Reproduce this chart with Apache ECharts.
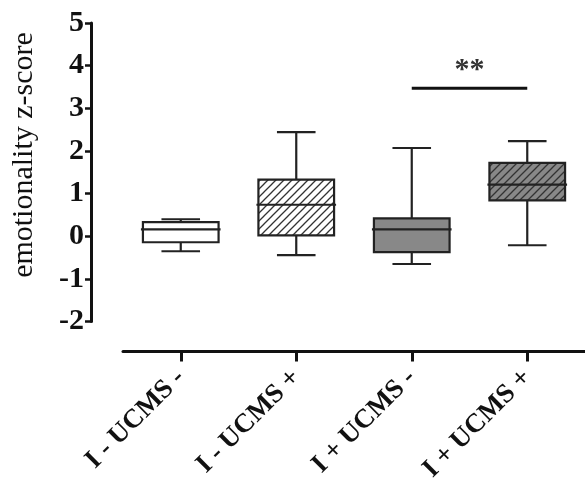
<!DOCTYPE html>
<html>
<head>
<meta charset="utf-8">
<script src="https://cdn.jsdelivr.net/npm/echarts@6/dist/echarts.min.js"></script>
<style>html,body{margin:0;padding:0;background:#fff;}#c{width:585px;height:485px;}</style>
</head>
<body>
<div id="c"></div>
<script>
// ---- data ----
const categories = ['I - UCMS -', 'I - UCMS +', 'I + UCMS -', 'I + UCMS +'];
const whiskerLow  = [-0.35, -0.44, -0.65, -0.21];
const quartile1   = [-0.14,  0.02, -0.37,  0.84];
const medians     = [ 0.16,  0.74,  0.16,  1.21];
const quartile3   = [ 0.33,  1.33,  0.42,  1.72];
const whiskerHigh = [ 0.40,  2.44,  2.07,  2.23];
const yTicks = [-2, -1, 0, 1, 2, 3, 4, 5];
const sigFrom = 2, sigTo = 3, sigLevel = 3.47, sigText = '**';

// ---- styles ----
function hatch(bg) {
  const s = 8;
  const c = document.createElement('canvas');
  c.width = s; c.height = s;
  const g = c.getContext('2d');
  g.fillStyle = bg; g.fillRect(0, 0, s, s);
  g.strokeStyle = '#333'; g.lineWidth = 1.3;
  g.beginPath();
  g.moveTo(-1, s + 1); g.lineTo(s + 1, -1);
  g.moveTo(-1, 1); g.lineTo(1, -1);
  g.moveTo(s - 1, s + 1); g.lineTo(s + 1, s - 1);
  g.stroke();
  return {image: c, repeat: 'repeat'};
}
const fills = ['#ffffff', hatch('#ffffff'), '#888888', hatch('#888888')];
const edge = '#222';
const serif = '"Liberation Serif", "Times New Roman", serif';

const boxData = categories.map((c, i) => [i, whiskerLow[i], quartile1[i], medians[i], quartile3[i], whiskerHigh[i]]);

function renderBox(params, api) {
  const i = api.value(0);
  const p = k => api.coord([i, api.value(k)]);
  const pMin = p(1), pQ1 = p(2), pMed = p(3), pQ3 = p(4), pMax = p(5);
  const cx = pMin[0];
  const bw = api.size([1, 0])[0] * 0.655;
  const cw = bw * 0.51;
  const ls = {stroke: edge, lineWidth: 2.2};
  return {
    type: 'group',
    children: [
      {type: 'line', shape: {x1: cx, y1: pMax[1], x2: cx, y2: pQ3[1]}, style: ls},
      {type: 'line', shape: {x1: cx, y1: pQ1[1], x2: cx, y2: pMin[1]}, style: ls},
      {type: 'line', shape: {x1: cx - cw / 2, y1: pMax[1], x2: cx + cw / 2, y2: pMax[1]}, style: ls},
      {type: 'line', shape: {x1: cx - cw / 2, y1: pMin[1], x2: cx + cw / 2, y2: pMin[1]}, style: ls},
      {type: 'rect', shape: {x: cx - bw / 2, y: pQ3[1], width: bw, height: pQ1[1] - pQ3[1]},
        style: {fill: fills[i], stroke: edge, lineWidth: 2.2}},
      {type: 'line', shape: {x1: cx - bw / 2 - 2, y1: pMed[1], x2: cx + bw / 2 + 2, y2: pMed[1]}, style: ls}
    ]
  };
}

function renderSig(params, api) {
  const a = api.coord([api.value(0), api.value(2)]);
  const b = api.coord([api.value(1), api.value(2)]);
  return {
    type: 'group',
    children: [
      {type: 'line', shape: {x1: a[0], y1: a[1], x2: b[0], y2: b[1]}, style: {stroke: '#111', lineWidth: 3}},
      {type: 'text', style: {text: sigText, x: (a[0] + b[0]) / 2, y: a[1] - 3, align: 'center', verticalAlign: 'bottom',
        font: 'bold 30px ' + serif, fill: '#333'}}
    ]
  };
}

const chart = echarts.init(document.getElementById('c'), null, {renderer: 'canvas'});
chart.setOption({
  animation: false,
  backgroundColor: '#fff',
  grid: {left: 123, right: -4, top: 23, bottom: 162},
  graphic: [{
    type: 'text', x: 24, y: 155, rotation: Math.PI / 2,
    style: {text: 'emotionality z-score', font: '30px ' + serif, fill: '#111', align: 'center', verticalAlign: 'middle'}
  }],
  xAxis: {
    type: 'category', data: categories, offset: 30,
    axisLine: {show: true, onZero: false, lineStyle: {color: '#111', width: 3}},
    axisTick: {show: true, alignWithLabel: true, interval: 0, length: 10, lineStyle: {color: '#111', width: 3}},
    axisLabel: {rotate: 45, interval: 0, margin: 22, color: '#111', fontFamily: serif, fontWeight: 'bold', fontSize: 27},
    splitLine: {show: false}
  },
  yAxis: {
    type: 'value', min: yTicks[0], max: yTicks[yTicks.length - 1], interval: 1, offset: 32,
    axisLine: {show: true, lineStyle: {color: '#111', width: 3}},
    axisTick: {show: true, length: 6, lineStyle: {color: '#111', width: 2.5}},
    axisLabel: {margin: 7, color: '#111', fontFamily: serif, fontWeight: 'bold', fontSize: 30,
      formatter: v => String(v)},
    splitLine: {show: false}
  },
  series: [
    {type: 'custom', renderItem: renderBox, data: boxData, encode: {x: 0, y: [1, 5]}, clip: false},
    {type: 'custom', renderItem: renderSig, data: [[sigFrom, sigTo, sigLevel]], encode: {x: [0, 1], y: 2}, clip: false}
  ]
});
</script>
</body>
</html>
